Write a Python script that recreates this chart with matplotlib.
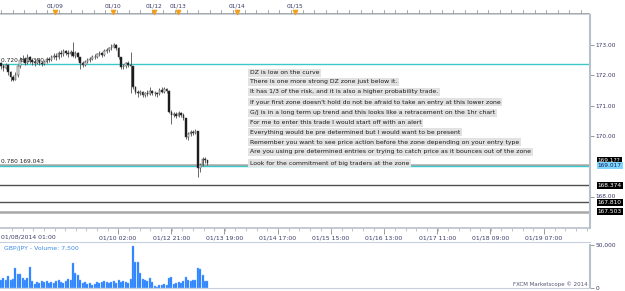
import matplotlib.pyplot as plt
import matplotlib.transforms as mtransforms
import numpy as np

# GBP/JPY hourly candles
close = [172.30, 172.25, 172.35, 172.10, 171.95, 171.85, 172.00, 172.30, 172.50, 172.55,
         172.40, 172.60, 172.50, 172.45, 172.40, 172.50, 172.42, 172.38, 172.45, 172.55,
         172.50, 172.60, 172.65, 172.60, 172.72, 172.70, 172.80, 172.75, 172.70, 172.78,
         172.65, 172.72, 172.60, 172.40, 172.35, 172.45, 172.50, 172.55, 172.62, 172.60,
         172.70, 172.72, 172.68, 172.80, 172.82, 172.90, 172.95, 173.00, 172.90, 172.60,
         172.28, 172.30, 172.40, 172.35, 172.30, 171.60, 171.45, 171.42, 171.45, 171.35,
         171.40, 171.38, 171.48, 171.42, 171.40, 171.38, 171.50, 171.45, 171.55, 171.48,
         170.80, 170.70, 170.72, 170.65, 170.75, 170.70, 170.58, 169.95, 170.05, 170.12,
         170.08, 170.15, 168.95, 169.05, 169.25, 169.20, 169.10]
high = [172.45, 172.38, 172.42, 172.38, 172.15, 172.00, 172.10, 172.35, 172.62, 172.68,
        172.60, 172.70, 172.65, 172.58, 172.52, 172.56, 172.55, 172.48, 172.52, 172.62,
        172.62, 172.68, 172.72, 172.72, 172.80, 172.82, 172.86, 172.85, 172.82, 172.85,
        173.10, 172.80, 172.76, 172.62, 172.46, 172.52, 172.56, 172.62, 172.68, 172.70,
        172.75, 172.80, 172.78, 172.86, 172.90, 172.95, 173.02, 173.06, 173.04, 172.92,
        172.62, 172.38, 172.45, 172.48, 172.78, 172.32, 171.65, 171.50, 171.52, 171.48,
        171.46, 171.50, 171.60, 171.52, 171.48, 171.45, 171.58, 171.60, 171.62, 171.58,
        171.50, 170.85, 170.80, 170.78, 170.82, 170.80, 170.74, 170.60, 170.12, 170.18,
        170.20, 170.22, 170.16, 169.12, 169.32, 169.30, 169.22]
low = [172.20, 172.15, 172.20, 172.00, 171.80, 171.80, 171.85, 171.95, 172.25, 172.45,
       172.35, 172.38, 172.42, 172.35, 172.30, 172.36, 172.35, 172.30, 172.34, 172.40,
       172.44, 172.46, 172.55, 172.52, 172.55, 172.62, 172.65, 172.66, 172.60, 172.65,
       172.60, 172.58, 172.52, 172.20, 172.28, 172.30, 172.40, 172.45, 172.50, 172.54,
       172.56, 172.64, 172.62, 172.65, 172.74, 172.78, 172.85, 172.90, 172.85, 172.55,
       172.22, 172.20, 172.25, 172.28, 171.40, 171.55, 171.38, 171.30, 171.36, 171.28,
       171.30, 171.32, 171.35, 171.36, 171.33, 171.30, 171.36, 171.40, 171.42, 171.42,
       170.75, 170.40, 170.62, 170.60, 170.62, 170.64, 170.52, 169.90, 169.88, 170.00,
       170.02, 170.05, 168.65, 168.80, 169.00, 169.12, 169.05]
first_open = 172.40

# volume per candle, in thousands
volume = [9, 12, 9, 14, 9, 10, 23, 16, 16, 12, 9, 12, 24, 8, 5, 7, 6, 8,
          7, 8, 6, 7, 6, 8, 9, 7, 6, 8, 10, 9, 29, 17, 15, 9,
          6, 7, 5, 6, 4, 5, 7, 6,
          7, 8, 7, 6, 7, 8, 6, 9, 7, 8, 7, 6, 10, 49, 30, 30,
          17, 10, 9, 8, 12, 7, 2, 1, 3, 4, 5, 4,
          12, 13, 5, 6, 7, 6, 8, 13, 9, 8, 9, 9, 23, 22, 15, 8, 8]

# horizontal levels
zone_top = 172.37
zone_low = 169.017
zone_gray = 169.043
level_a = 168.374
level_b = 167.810
level_c = 167.503

notes = [
    "DZ is low on the curve",
    "There is one more strong DZ zone just below it.",
    "It has 1/3 of the risk, and it is also a higher probability trade.",
    "If your first zone doesn't hold do not be afraid to take an entry at this lower zone",
    "G/J is in a long term up trend and this looks like a retracement on the 1hr chart",
    "For me to enter this trade I would start off with an alert",
    "Everything would be pre determined but I would want to be present",
    "Remember you want to see price action before the zone depending on your entry type",
    "Are you using pre determined entries or trying to catch price as it bounces out of the zone",
    "Look for the commitment of big traders at the zone",
]
note_prices = [172.08, 171.78, 171.45, 171.11, 170.77, 170.43, 170.12, 169.79, 169.48, 169.10]

bottom_labels = ["01/10 02:00", "01/12 21:00", "01/13 19:00", "01/14 17:00",
                 "01/15 15:00", "01/16 13:00", "01/17 11:00", "01/18 09:00", "01/19 07:00"]
top_labels = ["01/09", "01/10", "01/12", "01/13", "01/14", "01/15"]
price_ticks = [173.0, 172.0, 171.0, 170.0, 168.0]

W, H = 625, 291
PX = 2.4  # pixels per candle


def px2i(p):
    return (p - 1) / PX


def rect(x0, y0, x1, y1):
    return [x0 / W, 1 - y1 / H, (x1 - x0) / W, (y1 - y0) / H]


fig = plt.figure(figsize=(W / 100, H / 100), dpi=100)
fig.patch.set_facecolor('white')
font = 'DejaVu Sans'
navy = '#3a3a6a'

# ---------- price panel ----------
ax = fig.add_axes(rect(0, 15, 590, 228))
ax.set_xlim(px2i(0), px2i(590))
ax.set_ylim(173 - (228 - 45) / 30.3, 173 + (45 - 15) / 30.3)
for s in ['top', 'left']:
    ax.spines[s].set_visible(False)
ax.spines['right'].set_color('#b8c0cc')
ax.spines['right'].set_linewidth(1.5)
ax.spines['bottom'].set_color('#b8c0cc')
ax.spines['bottom'].set_linewidth(1.2)

x = np.arange(len(close))
opens = [first_open] + close[:-1]
ax.vlines(x, low, high, color='#505050', lw=0.6, zorder=3)
for i in range(len(close)):
    o, c = opens[i], close[i]
    up = c >= o
    ax.bar(i, max(abs(c - o), 0.015), bottom=min(o, c), width=0.62,
           color='#e6e6e6' if up else '#111111', edgecolor='#404040', lw=0.35, zorder=4)

ax.axhline(zone_top, color='#3cc8c8', lw=1.0, zorder=2)
ax.axhline(zone_gray, color='#a8a8a8', lw=1.8, zorder=2)
ax.axhline(zone_low, color='#3cc8c8', lw=1.0, zorder=2)
ax.axhline(level_a, color='#505050', lw=1.0, zorder=2)
ax.axhline(level_b, color='#505050', lw=1.0, zorder=2)
ax.axhline(level_c, color='#a8a8a8', lw=1.8, zorder=2)

ax.text(px2i(1), zone_top + 0.02, "0.720 172.370", fontsize=4.2, color='#222222',
        va='bottom', ha='left', family=font, zorder=5)
ax.text(px2i(1), zone_gray + 0.02, "0.780 169.043", fontsize=4.2, color='#222222',
        va='bottom', ha='left', family=font, zorder=5)

for txt, p in zip(notes, note_prices):
    ax.text(px2i(250), p, txt, fontsize=4.4, color='#1a1a1a', va='center', ha='left',
            family=font, zorder=6,
            bbox=dict(boxstyle='square,pad=0.25', fc='#e2e2e2', ec='none'))

ax.yaxis.tick_right()
ax.set_yticks(price_ticks)
ax.set_yticklabels([f"{v:.2f}" for v in price_ticks])
ax.tick_params(axis='y', labelsize=4.2, labelcolor=navy, color='#888888',
               length=3, width=0.6, pad=1)

# bottom time axis
major_px = [118 + 53.2 * k for k in range(len(bottom_labels))]
ax.set_xticks([px2i(p) for p in major_px])
ax.set_xticklabels(bottom_labels)
ax.set_xticks([px2i(12 + 10.64 * k) for k in range(55)], minor=True)
ax.tick_params(axis='x', which='major', labelsize=4.4, labelcolor=navy, color='#888888',
               length=4, width=0.6, pad=1.5)
ax.tick_params(axis='x', which='minor', color='#aaaaaa', length=2, width=0.5)
ax.text(px2i(1), -0.032, "01/08/2014 01:00", transform=mtransforms.blended_transform_factory(
    ax.transData, ax.transAxes), fontsize=4.4, color=navy, ha='left', va='top', family=font)

# right-hand level tags
tr = mtransforms.blended_transform_factory(ax.transAxes, ax.transData)
tags = [(169.19, "169.1??", 'black', 'white'), (zone_low, "169.017", '#7fd6ff', '#10205a'),
        (level_a, "168.374", 'black', 'white'), (level_b, "167.810", 'black', 'white'),
        (level_c, "167.503", 'black', 'white')]
for p, t, bg, fg in tags:
    ax.text(1.013, p, t, transform=tr, fontsize=4.2, color=fg, va='center', ha='left',
            family=font, clip_on=False,
            bbox=dict(boxstyle='square,pad=0.2', fc=bg, ec='none'))

# ---------- top date ruler ----------
top = fig.add_axes(rect(0, 0, 590, 15))
top.set_xlim(ax.get_xlim())
top.set_ylim(0, 15)
top.axis('off')
top.axhline(2.5, color='#999999', lw=0.6)
top.axhline(1.2, color='#c8d0dc', lw=0.8)
for p in np.arange(1, 590, 11.6):
    top.plot([px2i(p), px2i(p)], [2.5, 5.0], color='#888888', lw=0.5)
top_px = [55, 113, 154, 178, 237, 295]
top.scatter([px2i(p) for p in top_px], [2.6] * len(top_px), marker='v', s=9,
            color='#f0a020', zorder=3, clip_on=False)
for p, t in zip(top_px, top_labels):
    top.text(px2i(p), 9.5, t, fontsize=4.2, color=navy, ha='center', va='center', family=font)

# ---------- volume panel ----------
vax = fig.add_axes(rect(0, 245, 590, 288))
vax.set_xlim(ax.get_xlim())
vax.set_ylim(0, 50000)
vax.bar(x, [v * 1000 for v in volume], width=0.78, color='#1f7bff', edgecolor='#7fb6ff',
        lw=0.3)
for s in ['top', 'left']:
    vax.spines[s].set_visible(False)
vax.spines['right'].set_color('#b8c0cc')
vax.spines['right'].set_linewidth(1.5)
vax.spines['bottom'].set_color('#c8d0dc')
vax.yaxis.tick_right()
vax.set_yticks([0, 50000])
vax.set_yticklabels(["0", "50,000"])
vax.set_xticks([])
vax.tick_params(axis='y', labelsize=4.2, labelcolor=navy, color='#888888',
                length=3, width=0.6, pad=1)
vax.text(px2i(4), 49000, "GBP/JPY - Volume: 7,500", fontsize=4.4, color='#3c8ce6',
         ha='left', va='top', family=font)
vax.text(px2i(588), 800, "FXCM Marketscope \u00a9 2014", fontsize=4.0, color='#555577',
         ha='right', va='bottom', family=font)

fig.add_artist(plt.Line2D([0, 590 / W], [1 - 242 / H, 1 - 242 / H], color='#c8d0dc', lw=0.8))

fig.savefig('out.png', dpi=100, facecolor='white')
